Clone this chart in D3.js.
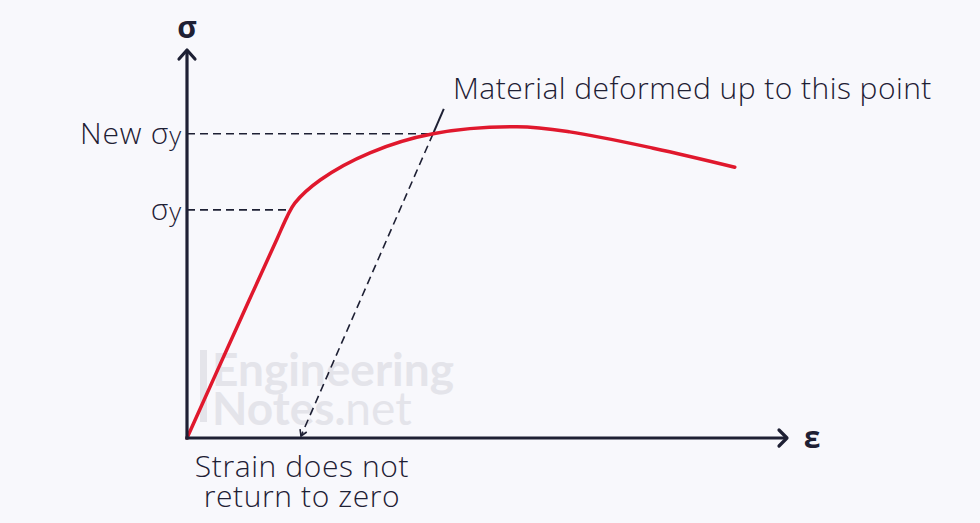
<!DOCTYPE html>
<html><head><meta charset="utf-8">
<script src="https://cdn.jsdelivr.net/npm/d3@7"></script>
<style>body{margin:0;background:#f8f8fc;}svg{display:block;}</style>
</head><body>
<svg id="c" width="980" height="523"></svg>
<script>
// Data (strain ε, stress σ) in arbitrary units
const strain = [0, 0.83, 1.5, 1.667, 1.8, 2.22, 3.05, 4.1, 5.5, 6.38, 7.77, 9.13];
const stress = [0, 2.85, 5.13, 5.70, 6.06, 6.65, 7.35, 7.84, 8.02, 7.89, 7.47, 6.98];
const yieldStress = 5.88;        // σy
const newYieldStress = 7.84;     // New σy
const deformPoint = [4.1, 7.84]; // point of deformation
const residualStrain = 1.9;      // strain after unloading
const leaderEnd = [4.28, 8.48];
const labels = { yAxis: "σ", xAxis: "ε", newSy: "New σ", sy: "σ", sub: "y",
  note: "Material deformed up to this point", res: ["Strain does not", "return to zero"] };

const svg = d3.select("#c");
const x = d3.scaleLinear().domain([0, 10]).range([187, 787]);
const y = d3.scaleLinear().domain([0, 10]).range([438, 50]);
const ink = "#1e2034", red = "#e0182d";
const font = "'Open Sans', Lato, sans-serif";

svg.append("rect").attr("width", 980).attr("height", 523).attr("fill", "#f8f8fc");

// watermark (single text element, two lines)
const wm = svg.append("g").attr("fill", "#e4e4ea").attr("font-family", "Lato, sans-serif").attr("font-weight", 700);
wm.append("rect").attr("x", 200).attr("y", 350).attr("width", 7).attr("height", 72);
const wt = wm.append("text").attr("font-size", 46);
wt.append("tspan").attr("x", 212).attr("y", 386).text("Engineering");
wt.append("tspan").attr("x", 212).attr("y", 425).text("Notes.");
wt.append("tspan").attr("font-weight", 400).text("net");

// dashed guides
const dash = "8,5";
svg.append("line").attr("x1", x(0)).attr("x2", x(1.72)).attr("y1", y(yieldStress)).attr("y2", y(yieldStress))
  .attr("stroke", ink).attr("stroke-width", 1.6).attr("stroke-dasharray", dash);
svg.append("line").attr("x1", x(0)).attr("x2", x(deformPoint[0])).attr("y1", y(newYieldStress)).attr("y2", y(newYieldStress))
  .attr("stroke", ink).attr("stroke-width", 1.6).attr("stroke-dasharray", dash);
svg.append("line").attr("x1", x(deformPoint[0])).attr("y1", y(deformPoint[1]))
  .attr("x2", x(residualStrain)).attr("y2", y(0) - 2)
  .attr("stroke", ink).attr("stroke-width", 1.6).attr("stroke-dasharray", dash);
// small arrowhead at bottom of unloading line
{
  const ex = x(residualStrain), ey = y(0) - 2;
  const ang = Math.atan2(ey - y(deformPoint[1]), ex - x(deformPoint[0]));
  const L = 7, a = 0.55;
  const p = [[ex - L * Math.cos(ang - a), ey - L * Math.sin(ang - a)], [ex, ey], [ex - L * Math.cos(ang + a), ey - L * Math.sin(ang + a)]];
  svg.append("path").attr("d", d3.line()(p)).attr("fill", "none").attr("stroke", ink).attr("stroke-width", 1.6);
}
// solid leader
svg.append("line").attr("x1", x(deformPoint[0])).attr("y1", y(deformPoint[1]))
  .attr("x2", x(leaderEnd[0])).attr("y2", y(leaderEnd[1])).attr("stroke", ink).attr("stroke-width", 2);

// curve
const pts = strain.map((e, i) => [e, stress[i]]);
svg.append("path").datum(pts)
  .attr("d", d3.line().x(d => x(d[0])).y(d => y(d[1])).curve(d3.curveCatmullRom.alpha(0.5)))
  .attr("fill", "none").attr("stroke", red).attr("stroke-width", 3.5).attr("stroke-linecap", "round");

// axes
svg.append("line").attr("x1", x(0)).attr("y1", y(0) + 1.5).attr("x2", x(0)).attr("y2", y(10))
  .attr("stroke", ink).attr("stroke-width", 3.2);
svg.append("line").attr("x1", x(0) - 1.5).attr("y1", y(0)).attr("x2", x(10)).attr("y2", y(0))
  .attr("stroke", ink).attr("stroke-width", 3.2);
svg.append("path").attr("d", `M${x(0)-8},${y(10)+9}L${x(0)},${y(10)}L${x(0)+8},${y(10)+9}`)
  .attr("fill", "none").attr("stroke", ink).attr("stroke-width", 3.2).attr("stroke-linejoin", "round").attr("stroke-linecap", "round");
svg.append("path").attr("d", `M${x(10)-8},${y(0)-8}L${x(10)},${y(0)}L${x(10)-8},${y(0)+8}`)
  .attr("fill", "none").attr("stroke", ink).attr("stroke-width", 3.2).attr("stroke-linejoin", "round").attr("stroke-linecap", "round");

// labels
const txt = svg.append("g").attr("fill", ink).attr("font-family", font);
txt.append("text").attr("x", x(0)).attr("y", 38).attr("text-anchor", "middle").attr("font-size", 30).attr("font-weight", 700).text(labels.yAxis);
txt.append("text").attr("x", 812).attr("y", y(0) + 10).attr("text-anchor", "middle").attr("font-size", 30).attr("font-weight", 700).text(labels.xAxis);

function sigmaLabel(text, yy) {
  const t = txt.append("text").attr("x", 182).attr("y", yy + 10).attr("text-anchor", "end")
    .attr("font-size", 30).attr("font-weight", 300).attr("letter-spacing", 0.8);
  t.append("tspan").text(text);
  t.append("tspan").attr("font-size", 26).attr("dy", 1).text(labels.sub);
}
sigmaLabel(labels.newSy, y(newYieldStress));
sigmaLabel(labels.sy, y(yieldStress));

txt.append("text").attr("x", 453).attr("y", 99).attr("font-size", 30).attr("font-weight", 300)
  .attr("letter-spacing", 0.45).text(labels.note);
const rt = txt.append("text").attr("text-anchor", "middle")
  .attr("font-size", 30).attr("font-weight", 300).attr("letter-spacing", 0.6);
rt.selectAll("tspan").data(labels.res).join("tspan")
  .attr("x", 302).attr("y", (d, i) => 477 + i * 30).text(d => d);
</script>
</body></html>
